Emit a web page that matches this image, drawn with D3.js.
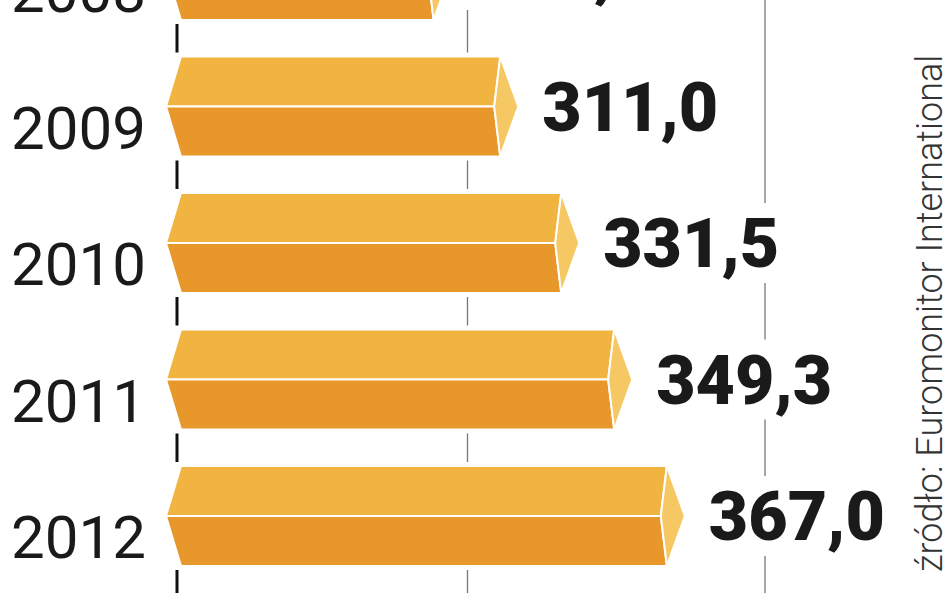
<!DOCTYPE html>
<html>
<head>
<meta charset="utf-8">
<script src="https://d3js.org/d3.v7.min.js"></script>
<style>
  body { margin: 0; background: #fff; }
  svg { display: block; }
</style>
</head>
<body>
<svg id="chart" width="948" height="593"></svg>
<script>
    var years = ["2008", "2009", "2010", "2011", "2012"];
    var values = [288.6, 311.0, 331.5, 349.3, 367.0];
    var gridTicks = [300, 400];
    var source = "źródło: Euromonitor International";

    var svg = d3.select("#chart");
    var x = d3.scaleLinear().domain([200, 400]).range([170, 765]);
    // band centers: one row = 136px, 2008 cut off at top
    var y = d3.scalePoint().domain(years).range([-30, 516]);
    var half = 50;

    // grid lines
    svg.selectAll(".grid").data(gridTicks).enter().append("line")
        .attr("x1", function (d) { return x(d); }).attr("x2", function (d) { return x(d); })
        .attr("y1", 0).attr("y2", 593)
        .attr("stroke", "#777").attr("stroke-width", 1.3);
    svg.append("line").attr("x1", 177).attr("x2", 177).attr("y1", 0).attr("y2", 593)
        .attr("stroke", "#111").attr("stroke-width", 3);

    var fmt = function (v) { return v.toFixed(1).replace(".", ","); };

    var g = svg.selectAll(".bar").data(years).enter().append("g")
        .attr("transform", function (d) { return "translate(0," + y(d) + ")"; });

    // white backgrounds to break the lines
    g.append("rect").attr("x", 160).attr("y", -half - 4).attr("height", 2 * half + 8)
        .attr("width", function (d, i) { return x(values[i]) - 140; }).attr("fill", "#fff");
    g.append("rect").attr("y", -40).attr("height", 80)
        .attr("x", function (d, i) { return x(values[i]) + 30; })
        .attr("width", 215).attr("fill", "#fff");

    g.append("path").attr("fill", "#F2B441").attr("stroke", "#fff").attr("stroke-width", 2)
        .attr("d", function (d, i) { var e = x(values[i]);
            return "M181," + (-half) + "L" + e + "," + (-half) + "L" + (e - 6) + ",0L166,0Z"; });
    g.append("path").attr("fill", "#E8972B").attr("stroke", "#fff").attr("stroke-width", 2)
        .attr("d", function (d, i) { var e = x(values[i]);
            return "M166,0L" + (e - 6) + ",0L" + e + "," + half + "L181," + half + "Z"; });
    g.append("path").attr("fill", "#F6C863").attr("stroke", "#fff").attr("stroke-width", 2)
        .attr("d", function (d, i) { var e = x(values[i]);
            return "M" + e + "," + (-half) + "L" + (e + 18) + ",0L" + e + "," + half + "L" + (e - 6) + ",0Z"; });

    g.append("text").attr("x", 146).attr("y", 42).attr("text-anchor", "end")
        .attr("font-family", "Roboto, sans-serif").attr("font-size", 60).attr("fill", "#1a1a1a")
        .text(function (d) { return d; });
    g.append("text").attr("x", function (d, i) { return x(values[i]) + 42; }).attr("y", 24)
        .attr("font-family", "Roboto, sans-serif").attr("font-weight", 900).attr("font-size", 68)
        .attr("fill", "#1a1a1a").text(function (d, i) { return fmt(values[i]); });

    svg.append("text").attr("transform", "translate(942,572) rotate(-90)")
        .attr("font-family", "Roboto, sans-serif").attr("font-weight", 300).attr("font-size", 36)
        .attr("fill", "#333").text(source);
</script>
</body>
</html>
